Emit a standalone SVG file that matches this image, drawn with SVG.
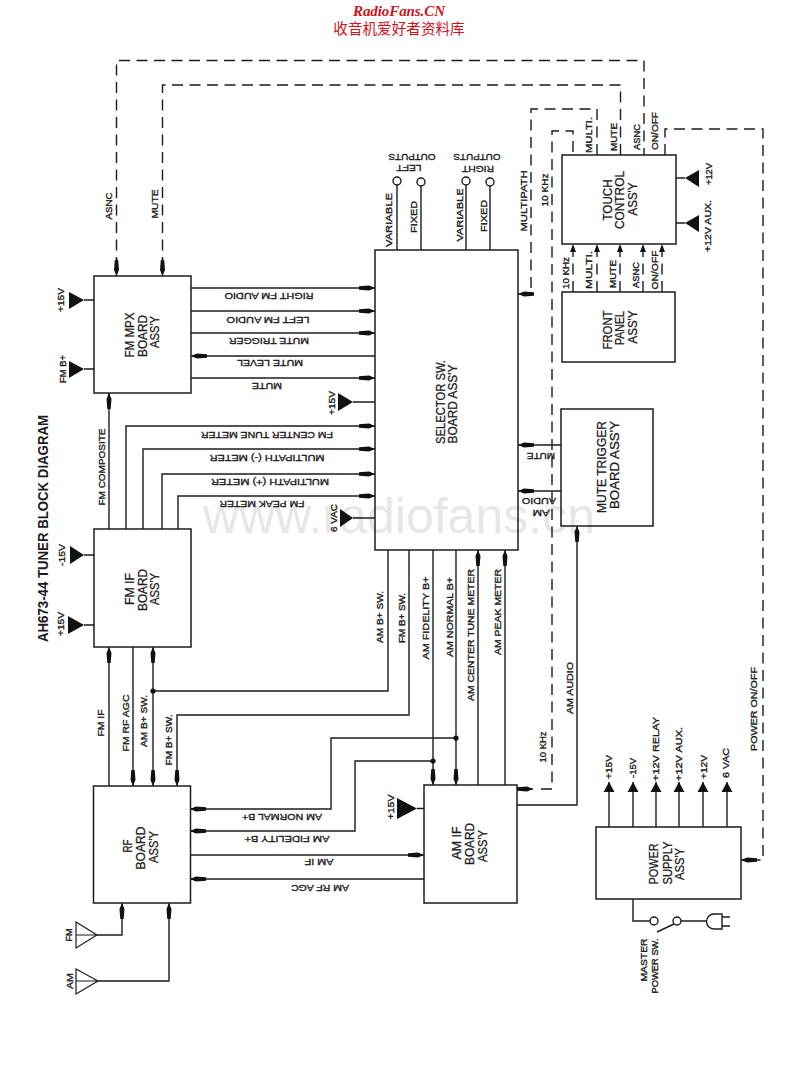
<svg xmlns="http://www.w3.org/2000/svg" width="800" height="1065" viewBox="0 0 800 1065">
<style>
text{font-family:"Liberation Sans",Arial,sans-serif;fill:#1c1c1c;text-anchor:middle}
.s{font-size:9.6px;stroke:#1c1c1c;stroke-width:.35}
.b{font-size:13px;stroke:#1c1c1c;stroke-width:.3}
.t{font-size:15px;font-weight:bold}
.box{fill:none;stroke:#1c1c1c;stroke-width:1.5}
.w{fill:none;stroke:#1c1c1c;stroke-width:1.4}
.d{fill:none;stroke:#1c1c1c;stroke-width:1.4;stroke-dasharray:11 6.5}
.h{marker-end:url(#a)}
.m{marker-end:url(#n)}
.p{marker-end:url(#p)}
.tri{fill:#111}
.ant{fill:none;stroke:#1c1c1c;stroke-width:1.2}
.o{fill:#fff;stroke:#1c1c1c;stroke-width:1.4}
</style>
<defs>
<marker id="a" markerUnits="userSpaceOnUse" markerWidth="18" markerHeight="8" refX="16" refY="4" orient="auto"><path d="M0 2.300L10 1.500L16 4L10 6.500L0 5.700Z" fill="#111"/></marker>
<marker id="n" markerUnits="userSpaceOnUse" markerWidth="9" markerHeight="8" refX="8" refY="4" orient="auto"><path d="M0 1L8 4L0 7Z" fill="#111"/></marker>
<marker id="p" markerUnits="userSpaceOnUse" markerWidth="12" markerHeight="12" refX="10" refY="6" orient="auto"><path d="M0 .5L10 6L0 11.500Z" fill="#111"/></marker>
</defs>
<rect width="800" height="1065" fill="#fff"/>
<g id="watermark"><text x="399" y="533" style="font-size:50px;fill:#e7e7e7" textLength="392" lengthAdjust="spacingAndGlyphs">www.radiofans.cn</text></g>
<g id="header">
<text x="399" y="16" style="font-family:'Liberation Serif',serif;font-size:15px;font-weight:bold;font-style:italic;fill:#d0121b" textLength="92" lengthAdjust="spacing">RadioFans.CN</text>
<text x="399" y="34" style="font-family:'Noto Sans CJK SC',sans-serif;font-size:14.6px;fill:#d0121b">收音机爱好者资料库</text>
</g>
<text class="t" transform="translate(48 528.500) rotate(-90)" textLength="227" lengthAdjust="spacingAndGlyphs">AH673-44 TUNER BLOCK DIAGRAM</text>

<g id="connectors">
<path class="d" d="M116.500 268V60.500H644V155"/>
<path class="d" d="M162.500 268V85H620.500V155"/>
<path class="w h" d="M116.500 258V276"/><path class="w h" d="M162.500 258V276"/>
<path class="d" d="M597 155V109H531V294H524"/><path class="w h" d="M530 294H518"/>
<path class="d" d="M541 789H552V131H573V155"/><path class="w h" d="M517 789H533"/>
<path class="d" d="M665 155V129H763V860H748"/><path class="w h" d="M752 860H741"/>
<path class="d m" d="M573 292V244"/><path class="d m" d="M597 292V244"/><path class="d m" d="M620 292V244"/><path class="d m" d="M643 292V244"/><path class="d m" d="M662 292V244"/>
<path class="w h" d="M191 288H375"/><path class="w h" d="M191 311H375"/><path class="w h" d="M191 333H375"/><path class="w h" d="M375 356H191"/><path class="w h" d="M191 378H375"/>
<path class="w h" d="M109 529V393"/>
<path class="w h" d="M126 529V426H375"/><path class="w h" d="M143 529V449H375"/><path class="w h" d="M162 529V474H375"/><path class="w h" d="M178 529V496H375"/>
<path class="w h" d="M109 786V647"/><path class="w h" d="M133 647V786"/><path class="w h" d="M153 691V647"/><path class="w h" d="M153 691V786"/>
<path class="w" d="M388 550V691H153"/>
<path class="w h" d="M409 550V715H177V786"/>
<path class="w h" d="M433 550V785"/><path class="w h" d="M456 550V785"/>
<path class="w h" d="M456 738H331V809H190"/><path class="w h" d="M433 761H355V831H190"/>
<path class="w h" d="M190 855H424"/><path class="w h" d="M424 879H190"/>
<path class="w h" d="M478 785V550"/><path class="w h" d="M505 785V550"/>
<path class="w h" d="M561 445H518"/><path class="w h" d="M561 491H518"/>
<path class="w h" d="M517 805H577V526"/>
<path class="w" d="M397 181V250M421 181V250M466 181V250M490 181V250"/>
<path class="w p" d="M609 827V782"/><path class="w p" d="M633 827V782"/><path class="w p" d="M656 827V782"/><path class="w p" d="M679 827V782"/><path class="w p" d="M703 827V782"/><path class="w p" d="M727 827V782"/>
<path class="w h" d="M97 935H122V903"/><path class="w h" d="M98 981H169V903"/>
<path class="w" d="M633 899V921H650M681 921H707M657 932L674 924"/>
<path class="w" d="M84 300H94M84 369H94M84 555H94M84 625H94M353 402H375M353 518H375M417 808.500H424M676 178H685M676 223H685"/>
<circle cx="153" cy="691" r="2.600" fill="#111"/><circle cx="433" cy="761" r="2.600" fill="#111"/><circle cx="456" cy="738" r="2.600" fill="#111"/>
</g>

<g id="supply-triangles">
<path class="tri" d="M69 292L84 300L69 309Z"/><path class="tri" d="M69 361L84 369L69 378Z"/><path class="tri" d="M70 546L84 555L70 564Z"/><path class="tri" d="M68 616L84 625L68 634Z"/>
<path class="tri" d="M338 393L353 402L338 411Z"/><path class="tri" d="M340 509L353 518L340 527Z"/><path class="tri" d="M397 798L417 808.500L397 819Z"/>
<path class="tri" d="M699 170L685 178L699 187Z"/><path class="tri" d="M699 215L685 223L699 232Z"/>
</g>

<g id="fm-mpx"><rect class="box" x="94" y="276" width="97" height="117"/>
<text class="b" transform="translate(134 335) rotate(-90)" textLength="45" lengthAdjust="spacingAndGlyphs">FM MPX</text>
<text class="b" transform="translate(147 336) rotate(-90)" textLength="42" lengthAdjust="spacingAndGlyphs">BOARD</text>
<text class="b" transform="translate(159 332) rotate(-90)" textLength="32" lengthAdjust="spacingAndGlyphs">ASS'Y</text></g>
<g id="fm-if"><rect class="box" x="94" y="529" width="97" height="118"/>
<text class="b" transform="translate(134 589) rotate(-90)" textLength="32" lengthAdjust="spacingAndGlyphs">FM IF</text>
<text class="b" transform="translate(147 590) rotate(-90)" textLength="42" lengthAdjust="spacingAndGlyphs">BOARD</text>
<text class="b" transform="translate(159 589) rotate(-90)" textLength="32" lengthAdjust="spacingAndGlyphs">ASS'Y</text></g>
<g id="rf"><rect class="box" x="93.500" y="786" width="97" height="117"/>
<text class="b" transform="translate(132 846) rotate(-90)" textLength="13" lengthAdjust="spacingAndGlyphs">RF</text>
<text class="b" transform="translate(145 848) rotate(-90)" textLength="43" lengthAdjust="spacingAndGlyphs">BOARD</text>
<text class="b" transform="translate(158 847) rotate(-90)" textLength="32" lengthAdjust="spacingAndGlyphs">ASS'Y</text></g>
<g id="am-if"><rect class="box" x="424" y="785" width="93" height="118"/>
<text class="b" transform="translate(461 843) rotate(-90)" textLength="33" lengthAdjust="spacingAndGlyphs">AM IF</text>
<text class="b" transform="translate(474 844) rotate(-90)" textLength="42" lengthAdjust="spacingAndGlyphs">BOARD</text>
<text class="b" transform="translate(487 846) rotate(-90)" textLength="32" lengthAdjust="spacingAndGlyphs">ASS'Y</text></g>
<g id="selector"><rect class="box" x="375" y="250" width="143" height="300"/>
<text class="b" transform="translate(445 402) rotate(-90)" textLength="84" lengthAdjust="spacingAndGlyphs">SELECTOR SW.</text>
<text class="b" transform="translate(457 404) rotate(-90)" textLength="79" lengthAdjust="spacingAndGlyphs">BOARD ASS'Y</text></g>
<g id="touch-control"><rect class="box" x="562" y="155" width="114" height="89"/>
<text class="b" transform="translate(612 200) rotate(-90)" textLength="41" lengthAdjust="spacingAndGlyphs">TOUCH</text>
<text class="b" transform="translate(624 200) rotate(-90)" textLength="58" lengthAdjust="spacingAndGlyphs">CONTROL</text>
<text class="b" transform="translate(637 199) rotate(-90)" textLength="33" lengthAdjust="spacingAndGlyphs">ASS'Y</text></g>
<g id="front-panel"><rect class="box" x="562" y="292" width="113" height="70"/>
<text class="b" transform="translate(612 330) rotate(-90)" textLength="39" lengthAdjust="spacingAndGlyphs">FRONT</text>
<text class="b" transform="translate(624 328) rotate(-90)" textLength="34" lengthAdjust="spacingAndGlyphs">PANEL</text>
<text class="b" transform="translate(637 327) rotate(-90)" textLength="33" lengthAdjust="spacingAndGlyphs">ASS'Y</text></g>
<g id="mute-trigger"><rect class="box" x="561" y="409" width="92" height="117"/>
<text class="b" transform="translate(606 467) rotate(-90)" textLength="92" lengthAdjust="spacingAndGlyphs">MUTE TRIGGER</text>
<text class="b" transform="translate(619 465) rotate(-90)" textLength="88" lengthAdjust="spacingAndGlyphs">BOARD ASS'Y</text></g>
<g id="power-supply"><rect class="box" x="596" y="827" width="145" height="72"/>
<text class="b" transform="translate(658 864) rotate(-90)" textLength="41" lengthAdjust="spacingAndGlyphs">POWER</text>
<text class="b" transform="translate(672 863) rotate(-90)" textLength="43" lengthAdjust="spacingAndGlyphs">SUPPLY</text>
<text class="b" transform="translate(684 864) rotate(-90)" textLength="32" lengthAdjust="spacingAndGlyphs">ASS'Y</text></g>

<g id="antenna-fm"><path class="ant" d="M76 922L97 935L76 948ZM76 935H97"/><text class="s" transform="translate(72 935) rotate(-90)" textLength="13" lengthAdjust="spacingAndGlyphs">FM</text></g>
<g id="antenna-am"><path class="ant" d="M76 969L98 981L76 994ZM76 981H98"/><text class="s" transform="translate(73 981) rotate(-90)" textLength="16" lengthAdjust="spacingAndGlyphs">AM</text></g>
<g id="outputs">
<circle class="o" cx="397" cy="181" r="4"/><circle class="o" cx="421" cy="182" r="4"/><circle class="o" cx="466" cy="181" r="4"/><circle class="o" cx="490" cy="182" r="4"/>
<text class="s" transform="translate(409 165) rotate(180)" textLength="25" lengthAdjust="spacingAndGlyphs">LEFT</text>
<text class="s" transform="translate(412 154) rotate(180)" textLength="47" lengthAdjust="spacingAndGlyphs">OUTPUTS</text>
<text class="s" transform="translate(478 166) rotate(180)" textLength="32" lengthAdjust="spacingAndGlyphs">RIGHT</text>
<text class="s" transform="translate(477 154) rotate(180)" textLength="47" lengthAdjust="spacingAndGlyphs">OUTPUTS</text>
</g>
<g id="master-switch">
<circle class="o" cx="654" cy="921" r="4"/><circle class="o" cx="677" cy="921" r="4"/>
<path class="w" d="M722 914H714A7.500 7.500 0 0 0 714 929H722ZM722 917H730M722 926H730"/>
<text class="s" transform="translate(647 960) rotate(-90)" textLength="43" lengthAdjust="spacingAndGlyphs">MASTER</text>
<text class="s" transform="translate(658 966) rotate(-90)" textLength="55" lengthAdjust="spacingAndGlyphs">POWER SW.</text>
</g>

<g id="labels">
<text class="s" transform="translate(112 206) rotate(-90)" textLength="27" lengthAdjust="spacingAndGlyphs">ASNC</text>
<text class="s" transform="translate(158 204) rotate(-90)" textLength="29" lengthAdjust="spacingAndGlyphs">MUTE</text>
<text class="s" transform="translate(392 220) rotate(-90)" textLength="54" lengthAdjust="spacingAndGlyphs">VARIABLE</text>
<text class="s" transform="translate(417 217) rotate(-90)" textLength="32" lengthAdjust="spacingAndGlyphs">FIXED</text>
<text class="s" transform="translate(463 215) rotate(-90)" textLength="53" lengthAdjust="spacingAndGlyphs">VARIABLE</text>
<text class="s" transform="translate(487 216) rotate(-90)" textLength="32" lengthAdjust="spacingAndGlyphs">FIXED</text>
<text class="s" transform="translate(527 201) rotate(-90)" textLength="61" lengthAdjust="spacingAndGlyphs">MULTIPATH</text>
<text class="s" transform="translate(548 190) rotate(-90)" textLength="33" lengthAdjust="spacingAndGlyphs">10 KHz</text>
<text class="s" transform="translate(592 135) rotate(-90)" textLength="36" lengthAdjust="spacingAndGlyphs">MULTI.</text>
<text class="s" transform="translate(617 137) rotate(-90)" textLength="28" lengthAdjust="spacingAndGlyphs">MUTE</text>
<text class="s" transform="translate(640 137) rotate(-90)" textLength="26" lengthAdjust="spacingAndGlyphs">ASNC</text>
<text class="s" transform="translate(658 131) rotate(-90)" textLength="38" lengthAdjust="spacingAndGlyphs">ON/OFF</text>
<text class="s" transform="translate(712 174) rotate(-90)" textLength="22" lengthAdjust="spacingAndGlyphs">+12V</text>
<text class="s" transform="translate(711 226) rotate(-90)" textLength="52" lengthAdjust="spacingAndGlyphs">+12V AUX.</text>
<text class="s" transform="translate(569 273) rotate(-90)" textLength="32" lengthAdjust="spacingAndGlyphs">10 KHz</text>
<text class="s" transform="translate(592 270) rotate(-90)" textLength="38" lengthAdjust="spacingAndGlyphs">MULTI.</text>
<text class="s" transform="translate(616 274) rotate(-90)" textLength="28" lengthAdjust="spacingAndGlyphs">MUTE</text>
<text class="s" transform="translate(639 275) rotate(-90)" textLength="26" lengthAdjust="spacingAndGlyphs">ASNC</text>
<text class="s" transform="translate(658 270) rotate(-90)" textLength="39" lengthAdjust="spacingAndGlyphs">ON/OFF</text>
<text class="s" transform="translate(64 300) rotate(-90)" textLength="24" lengthAdjust="spacingAndGlyphs">+15V</text>
<text class="s" transform="translate(66 369) rotate(-90)" textLength="28" lengthAdjust="spacingAndGlyphs">FM B+</text>
<text class="s" transform="translate(65 555) rotate(-90)" textLength="22" lengthAdjust="spacingAndGlyphs">-15V</text>
<text class="s" transform="translate(64 624) rotate(-90)" textLength="24" lengthAdjust="spacingAndGlyphs">+15V</text>
<text class="s" transform="translate(105 467) rotate(-90)" textLength="77" lengthAdjust="spacingAndGlyphs">FM COMPOSITE</text>
<text class="s" transform="translate(335 403) rotate(-90)" textLength="24" lengthAdjust="spacingAndGlyphs">+15V</text>
<text class="s" transform="translate(337 518) rotate(-90)" textLength="28" lengthAdjust="spacingAndGlyphs">6 VAC</text>
<text class="s" transform="translate(383 617) rotate(-90)" textLength="52" lengthAdjust="spacingAndGlyphs">AM B+ SW.</text>
<text class="s" transform="translate(405 618) rotate(-90)" textLength="50" lengthAdjust="spacingAndGlyphs">FM B+ SW.</text>
<text class="s" transform="translate(429 618) rotate(-90)" textLength="83" lengthAdjust="spacingAndGlyphs">AM FIDELITY B+</text>
<text class="s" transform="translate(453 617) rotate(-90)" textLength="80" lengthAdjust="spacingAndGlyphs">AM NORMAL B+</text>
<text class="s" transform="translate(474 635) rotate(-90)" textLength="132" lengthAdjust="spacingAndGlyphs">AM CENTER TUNE METER</text>
<text class="s" transform="translate(501 612) rotate(-90)" textLength="86" lengthAdjust="spacingAndGlyphs">AM PEAK METER</text>
<text class="s" transform="translate(573 688) rotate(-90)" textLength="52" lengthAdjust="spacingAndGlyphs">AM AUDIO</text>
<text class="s" transform="translate(546 747) rotate(-90)" textLength="31" lengthAdjust="spacingAndGlyphs">10 KHz</text>
<text class="s" transform="translate(104 723) rotate(-90)" textLength="27" lengthAdjust="spacingAndGlyphs">FM IF</text>
<text class="s" transform="translate(129 723) rotate(-90)" textLength="57" lengthAdjust="spacingAndGlyphs">FM RF AGC</text>
<text class="s" transform="translate(147 721) rotate(-90)" textLength="52" lengthAdjust="spacingAndGlyphs">AM B+ SW.</text>
<text class="s" transform="translate(172 740) rotate(-90)" textLength="51" lengthAdjust="spacingAndGlyphs">FM B+ SW.</text>
<text class="s" transform="translate(394 807) rotate(-90)" textLength="25" lengthAdjust="spacingAndGlyphs">+15V</text>
<text class="s" transform="translate(612 767) rotate(-90)" textLength="24" lengthAdjust="spacingAndGlyphs">+15V</text>
<text class="s" transform="translate(636 768) rotate(-90)" textLength="20" lengthAdjust="spacingAndGlyphs">-15V</text>
<text class="s" transform="translate(659 749) rotate(-90)" textLength="64" lengthAdjust="spacingAndGlyphs">+12V RELAY</text>
<text class="s" transform="translate(682 754) rotate(-90)" textLength="54" lengthAdjust="spacingAndGlyphs">+12V AUX.</text>
<text class="s" transform="translate(707 767) rotate(-90)" textLength="24" lengthAdjust="spacingAndGlyphs">+12V</text>
<text class="s" transform="translate(729 763) rotate(-90)" textLength="30" lengthAdjust="spacingAndGlyphs">6 VAC</text>
<text class="s" transform="translate(757 709) rotate(-90)" textLength="84" lengthAdjust="spacingAndGlyphs">POWER ON/OFF</text>
<text class="s" transform="translate(269 293) rotate(180)" textLength="89" lengthAdjust="spacingAndGlyphs">RIGHT FM AUDIO</text>
<text class="s" transform="translate(268 317) rotate(180)" textLength="83" lengthAdjust="spacingAndGlyphs">LEFT FM AUDIO</text>
<text class="s" transform="translate(269 338) rotate(180)" textLength="80" lengthAdjust="spacingAndGlyphs">MUTE TRIGGER</text>
<text class="s" transform="translate(270 360) rotate(180)" textLength="66" lengthAdjust="spacingAndGlyphs">MUTE LEVEL</text>
<text class="s" transform="translate(267 383) rotate(180)" textLength="30" lengthAdjust="spacingAndGlyphs">MUTE</text>
<text class="s" transform="translate(267 432) rotate(180)" textLength="132" lengthAdjust="spacingAndGlyphs">FM CENTER TUNE METER</text>
<text class="s" transform="translate(267 455) rotate(180)" textLength="115" lengthAdjust="spacingAndGlyphs">MULTIPATH (-) METER</text>
<text class="s" transform="translate(270 479) rotate(180)" textLength="118" lengthAdjust="spacingAndGlyphs">MULTIPATH (+) METER</text>
<text class="s" transform="translate(262 501) rotate(180)" textLength="85" lengthAdjust="spacingAndGlyphs">FM PEAK METER</text>
<text class="s" transform="translate(541 453) rotate(180)" textLength="28" lengthAdjust="spacingAndGlyphs">MUTE</text>
<text class="s" transform="translate(539 498) rotate(180)" textLength="34" lengthAdjust="spacingAndGlyphs">AUDIO</text>
<text class="s" transform="translate(541 510) rotate(180)" textLength="17" lengthAdjust="spacingAndGlyphs">AM</text>
<text class="s" transform="translate(282 814) rotate(180)" textLength="80" lengthAdjust="spacingAndGlyphs">AM NORMAL B+</text>
<text class="s" transform="translate(287 836) rotate(180)" textLength="85" lengthAdjust="spacingAndGlyphs">AM FIDELITY B+</text>
<text class="s" transform="translate(319 859) rotate(180)" textLength="29" lengthAdjust="spacingAndGlyphs">AM IF</text>
<text class="s" transform="translate(320 885) rotate(180)" textLength="58" lengthAdjust="spacingAndGlyphs">AM RF AGC</text>
</g>
</svg>
